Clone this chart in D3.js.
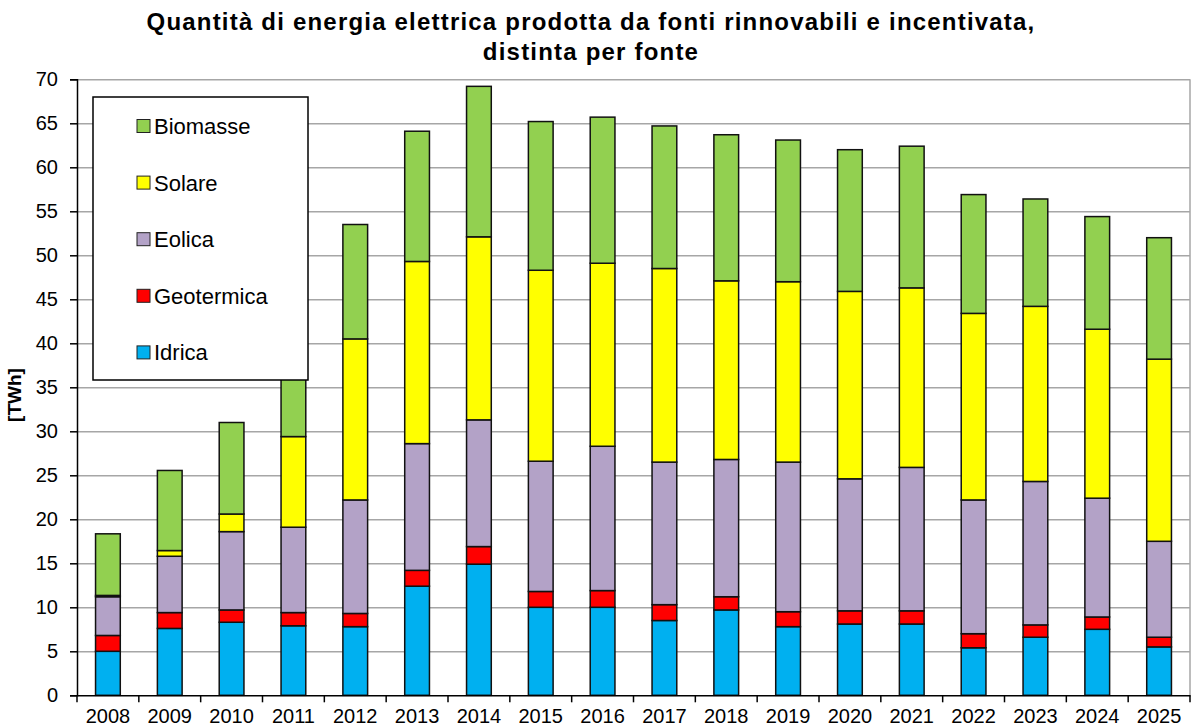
<!doctype html>
<html lang="it">
  <head>
    <meta charset="utf-8">
    <title>Energia elettrica da fonti rinnovabili incentivata</title>
    <script src="https://d3js.org/d3.v7.min.js"></script>
    <style>
    body { margin: 0; background: #fff; }
    text { font-family: "Liberation Sans", Arial, sans-serif; fill: #000; }
    .grid line { stroke: #a6a6a6; stroke-width: 1.5; }
    .grid path { display: none; }
    </style>
  </head>
  <body>
    <svg width="1200" height="727"></svg>
    <script>
      var years = ['2008','2009','2010','2011','2012','2013','2014','2015','2016',
                   '2017','2018','2019','2020','2021','2022','2023','2024','2025'];
      var idrica     = [5.0, 7.6, 8.3, 7.9, 7.8, 12.4, 14.9, 10.0, 10.0, 8.5, 9.7, 7.8, 8.1, 8.1, 5.4, 6.6, 7.5, 5.5];
      var geotermica = [1.8, 1.8, 1.4, 1.5, 1.5, 1.8, 2.0, 1.8, 1.9, 1.8, 1.5, 1.7, 1.5, 1.5, 1.6, 1.4, 1.4, 1.1];
      var eolica     = [4.4, 6.4, 8.9, 9.7, 12.9, 14.4, 14.4, 14.8, 16.4, 16.2, 15.6, 17.0, 15.0, 16.3, 15.2, 16.3, 13.5, 10.9];
      var solare     = [0.15, 0.65, 2.0, 10.3, 18.3, 20.7, 20.8, 21.7, 20.8, 22.0, 20.3, 20.5, 21.3, 20.4, 21.2, 19.9, 19.2, 20.7];
      var biomasse   = [7.0, 9.1, 10.4, 11.5, 13.0, 14.8, 17.1, 16.9, 16.6, 16.2, 16.6, 16.1, 16.1, 16.1, 13.5, 12.2, 12.8, 13.8];
      var yTicks = [0, 5, 10, 15, 20, 25, 30, 35, 40, 45, 50, 55, 60, 65, 70];

      var series = [
        { name: 'Idrica',     values: idrica,     color: '#00b0f0' },
        { name: 'Geotermica', values: geotermica, color: '#ff0000' },
        { name: 'Eolica',     values: eolica,     color: '#b3a2c7' },
        { name: 'Solare',     values: solare,     color: '#ffff00' },
        { name: 'Biomasse',   values: biomasse,   color: '#92d050' }
      ];

      var table = years.map(function(y, i){
        var row = { year: y };
        series.forEach(function(s){ row[s.name] = s.values[i]; });
        return row;
      });

      var stacked = d3.stack().keys(series.map(function(s){ return s.name; }))(table);

      var svg = d3.select('svg');
      var plotL = 77, plotR = 1190, plotT = 79.3, plotB = 695.3;

      var x = d3.scaleBand().domain(years).range([plotL, plotR]);
      var y = d3.scaleLinear().domain([0, 70]).range([plotB, plotT]);

      // title
      svg.append('text')
        .attr('x', 591).attr('y', 30)
        .attr('text-anchor', 'middle')
        .style('font-size', '24px').style('font-weight', 'bold').style('letter-spacing', '1.2px')
        .text('Quantità di energia elettrica prodotta da fonti rinnovabili e incentivata,');
      svg.append('text')
        .attr('x', 591).attr('y', 60)
        .attr('text-anchor', 'middle')
        .style('font-size', '24px').style('font-weight', 'bold').style('letter-spacing', '1.2px')
        .text('distinta per fonte');

      // gridlines
      svg.append('g')
        .attr('class', 'grid')
        .attr('transform', 'translate(' + plotL + ',0)')
        .call(d3.axisRight(y).tickValues(yTicks.slice(1)).tickSize(plotR - plotL).tickFormat(''));

      svg.append('line')
        .attr('x1', plotR).attr('x2', plotR)
        .attr('y1', plotT).attr('y2', plotB)
        .attr('stroke', '#a6a6a6').attr('stroke-width', 1.5);

      // bars
      var barW = x.bandwidth() * 0.4;
      svg.append('g').selectAll('g').data(stacked).enter()
        .append('g')
          .attr('fill', function(d, i){ return series[i].color; })
        .selectAll('rect').data(function(d){ return d; }).enter()
          .append('rect')
          .attr('x', function(d){ return x(d.data.year) + (x.bandwidth() - barW) / 2; })
          .attr('y', function(d){ return y(d[1]); })
          .attr('width', barW)
          .attr('height', function(d){ return y(d[0]) - y(d[1]); })
          .attr('stroke', '#111')
          .attr('stroke-width', 1.5);

      // axes
      var yAxis = svg.append('g')
        .attr('transform', 'translate(' + plotL + ',0)')
        .call(d3.axisLeft(y).tickValues(yTicks).tickSize(7).tickPadding(12));
      yAxis.selectAll('text').style('font-size', '20px');
      yAxis.selectAll('line, path').attr('stroke', '#000').attr('stroke-width', 1.5);

      var xAxis = svg.append('g')
        .attr('transform', 'translate(0,' + plotB + ')')
        .call(d3.axisBottom(x).tickSize(0).tickPadding(14));
      xAxis.selectAll('text').style('font-size', '20px');
      xAxis.select('path').attr('stroke', '#000').attr('stroke-width', 1.5);
      // ticks between categories
      xAxis.selectAll('.sep').data(years.concat(['end'])).enter()
        .append('line')
        .attr('x1', function(d, i){ return plotL + i * x.step(); })
        .attr('x2', function(d, i){ return plotL + i * x.step(); })
        .attr('y1', 0).attr('y2', 7)
        .attr('stroke', '#000').attr('stroke-width', 1.5);

      svg.append('text')
        .attr('transform', 'translate(21,' + 395 + ') rotate(-90)')
        .attr('text-anchor', 'middle')
        .style('font-size', '19px').style('font-weight', 'bold')
        .text('[TWh]');

      // legend
      var legend = svg.append('g');
      legend.append('rect')
        .attr('x', 93).attr('y', 97).attr('width', 215).attr('height', 283)
        .attr('fill', '#fff').attr('stroke', '#000').attr('stroke-width', 1.5);
      var items = legend.selectAll('g.item').data(series.slice().reverse()).enter()
        .append('g').attr('class', 'item')
        .attr('transform', function(d, i){ return 'translate(137,' + (126 + i * 56.6) + ')'; });
      items.append('rect')
        .attr('x', 0).attr('y', -6.5).attr('width', 13).attr('height', 13)
        .attr('fill', function(d){ return d.color; })
        .attr('stroke', '#222').attr('stroke-width', 1);
      items.append('text')
        .attr('x', 17).attr('y', 8)
        .style('font-size', '22px')
        .text(function(d){ return d.name; });
    </script>
  </body>
</html>
